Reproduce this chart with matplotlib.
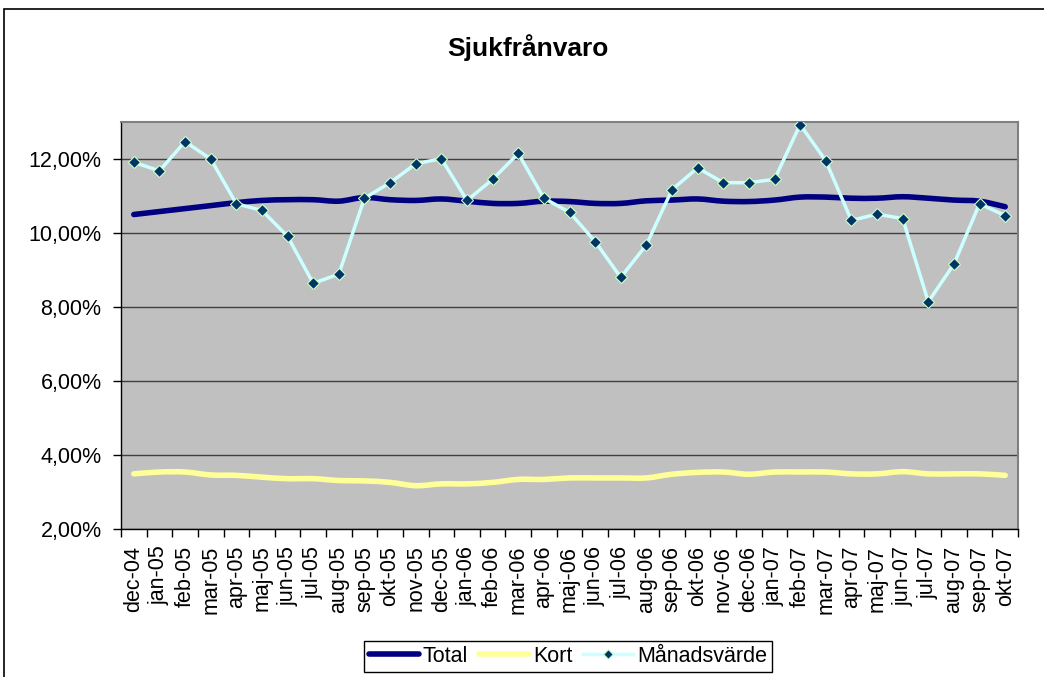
import matplotlib
matplotlib.use('Agg')
import matplotlib.pyplot as plt
import matplotlib.patches as patches
from matplotlib.path import Path
from matplotlib.lines import Line2D
from matplotlib.ticker import FixedLocator, FuncFormatter
import numpy as np

plt.rcParams['font.family'] = ['Liberation Sans', 'DejaVu Sans']

months = ['dec-04', 'jan-05', 'feb-05', 'mar-05', 'apr-05', 'maj-05', 'jun-05',
          'jul-05', 'aug-05', 'sep-05', 'okt-05', 'nov-05', 'dec-05', 'jan-06',
          'feb-06', 'mar-06', 'apr-06', 'maj-06', 'jun-06', 'jul-06', 'aug-06',
          'sep-06', 'okt-06', 'nov-06', 'dec-06', 'jan-07', 'feb-07', 'mar-07',
          'apr-07', 'maj-07', 'jun-07', 'jul-07', 'aug-07', 'sep-07', 'okt-07']

# values in percent
total = [10.50, 10.58, 10.66, 10.74, 10.82, 10.88, 10.90, 10.90, 10.86, 10.96,
         10.90, 10.88, 10.92, 10.86, 10.80, 10.80, 10.86, 10.85, 10.80, 10.80,
         10.87, 10.89, 10.92, 10.86, 10.85, 10.89, 10.97, 10.97, 10.94, 10.94,
         10.98, 10.94, 10.89, 10.86, 10.71]

kort = [3.49, 3.54, 3.54, 3.46, 3.45, 3.40, 3.36, 3.36, 3.31, 3.30,
        3.26, 3.17, 3.22, 3.22, 3.26, 3.34, 3.34, 3.38, 3.38, 3.38,
        3.38, 3.48, 3.53, 3.54, 3.48, 3.54, 3.54, 3.54, 3.49, 3.49,
        3.55, 3.49, 3.49, 3.49, 3.45]

manad = [11.91, 11.68, 12.47, 12.00, 10.79, 10.61, 9.91, 8.64, 8.89, 10.94,
         11.36, 11.87, 12.01, 10.88, 11.45, 12.15, 10.94, 10.56, 9.77, 8.80,
         9.68, 11.17, 11.76, 11.36, 11.36, 11.45, 12.93, 11.95, 10.34, 10.51,
         10.39, 8.14, 9.16, 10.79, 10.47]

yticks = [2, 4, 6, 8, 10, 12]


def smooth_path(xs, ys):
    # Catmull-Rom style bezier, similar to Excel's smoothed lines
    pts = np.column_stack([xs, ys])
    n = len(pts)
    verts = [pts[0]]
    codes = [Path.MOVETO]
    for i in range(n - 1):
        p0 = pts[max(i - 1, 0)]
        p1 = pts[i]
        p2 = pts[i + 1]
        p3 = pts[min(i + 2, n - 1)]
        c1 = p1 + (p2 - p0) / 6.0
        c2 = p2 - (p3 - p1) / 6.0
        verts += [c1, c2, p2]
        codes += [Path.CURVE4] * 3
    return Path(verts, codes)


fig = plt.figure(figsize=(10.44, 6.77), dpi=100, facecolor='white')
ax = fig.add_axes([121 / 1044, 1 - 529 / 677, 897 / 1044, 407 / 677])
ax.set_facecolor('#C0C0C0')

x = np.arange(len(months))
tot_col = '#000080'
kort_col = '#FFFF99'
man_col = '#CCFFFF'

ax.add_patch(patches.PathPatch(smooth_path(x, total), fill=False,
                               edgecolor=tot_col, lw=4, capstyle='round',
                               joinstyle='round', zorder=3))
ax.add_patch(patches.PathPatch(smooth_path(x, kort), fill=False,
                               edgecolor=kort_col, lw=4, capstyle='round',
                               joinstyle='round', zorder=3))
ax.plot(x, manad, color=man_col, lw=2.5, marker='D', markersize=6.5,
        markerfacecolor='#003366', markeredgecolor='#CCFFCC',
        markeredgewidth=0.8, zorder=4, solid_joinstyle='round')

ax.set_xlim(-0.5, len(months) - 0.5)
ax.set_ylim(2, 13)

# y axis
ax.yaxis.set_major_locator(FixedLocator(yticks))
ax.yaxis.set_major_formatter(FuncFormatter(lambda v, _: f'{v:.2f}'.replace('.', ',') + '%'))
ax.tick_params(axis='y', direction='out', length=6, width=1, pad=8,
               labelsize=15.5, colors='black')
ax.grid(axis='y', color='#404040', linewidth=1, zorder=1)
ax.set_axisbelow(True)

# x axis: ticks between categories, labels at categories
ax.xaxis.set_major_locator(FixedLocator(np.arange(-0.5, len(months), 1.0)))
ax.xaxis.set_major_formatter(FuncFormatter(lambda v, _: ''))
ax.xaxis.set_minor_locator(FixedLocator(x))
ax.set_xticklabels(months, minor=True, rotation=90, fontsize=15.5)
ax.tick_params(axis='x', which='major', direction='out', length=6, width=1)
ax.tick_params(axis='x', which='minor', length=0, pad=12)

for side in ['left', 'bottom']:
    ax.spines[side].set_color('black')
    ax.spines[side].set_linewidth(1)
for side in ['top', 'right']:
    ax.spines[side].set_color('#808080')
    ax.spines[side].set_linewidth(1.5)

fig.text(0.506, 1 - 48 / 677, 'Sjukfrånvaro', ha='center', va='center',
         fontsize=19, fontweight='bold')

# chart area border
fig.patches.append(patches.Rectangle((4 / 1044, -0.1), 1.2, 1 - 9 / 677 + 0.1,
                                     transform=fig.transFigure, fill=False,
                                     edgecolor='black', lw=1.2))

handles = [
    Line2D([], [], color=tot_col, lw=4, solid_capstyle='round'),
    Line2D([], [], color=kort_col, lw=4, solid_capstyle='round'),
    Line2D([], [], color=man_col, lw=2.5, marker='D', markersize=5,
           markerfacecolor='#003366', markeredgecolor='#CCFFCC'),
]
leg = fig.legend(handles, ['Total', 'Kort', 'Månadsvärde'], loc='center',
                 bbox_to_anchor=(568 / 1044, 1 - 656.5 / 677), ncol=3,
                 fontsize=15.5, frameon=True, fancybox=False, edgecolor='black',
                 framealpha=1, handlelength=2.3, handletextpad=0.2,
                 columnspacing=0.5, borderpad=0.25, borderaxespad=0)
leg.get_frame().set_linewidth(1)

fig.savefig('out.png', dpi=100, facecolor='white')
